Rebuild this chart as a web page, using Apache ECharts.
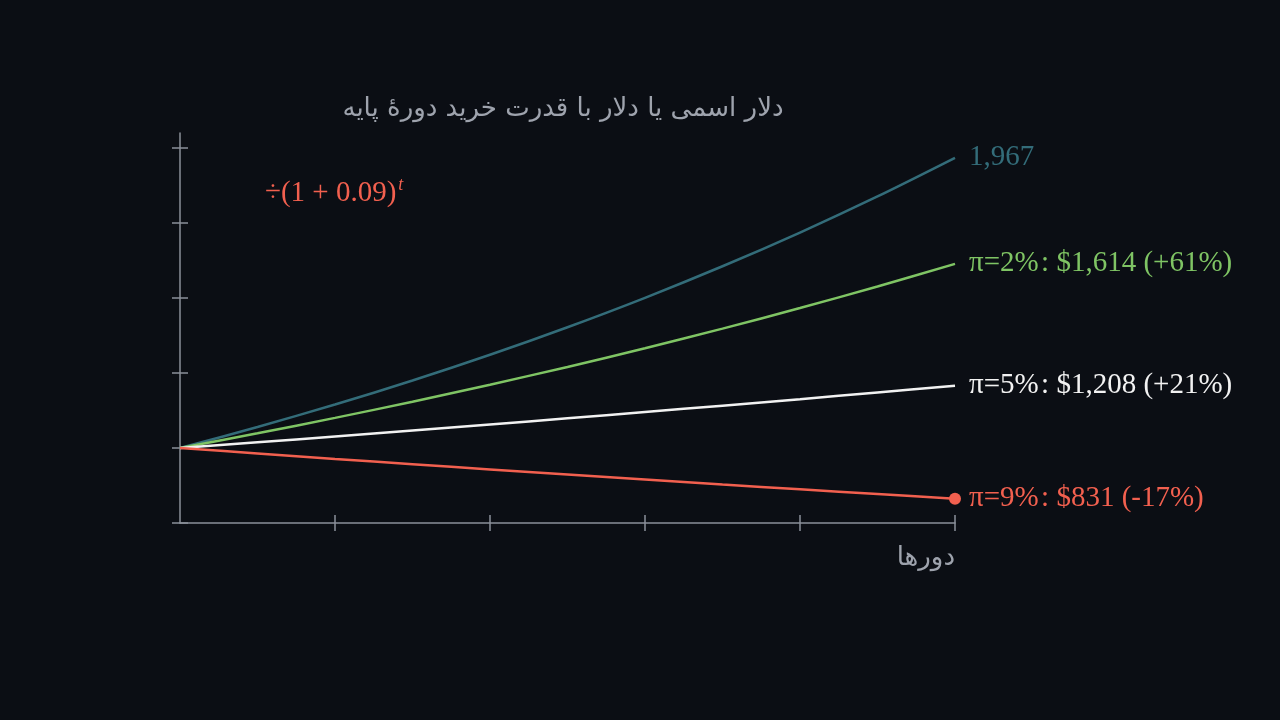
<!DOCTYPE html>
<html><head><meta charset="utf-8">
<script src="https://cdn.jsdelivr.net/npm/echarts@6/dist/echarts.min.js"></script>
<style>html,body{margin:0;padding:0;background:#0b0e14}#c{width:1280px;height:720px}</style>
</head><body><div id="c"></div>
<script>
const periods = [0,1,2,3,4,5,6,7,8,9,10];
const nominal = [1000,1070,1144.9,1225.0,1310.8,1402.6,1500.7,1605.8,1718.2,1838.5,1967.2];
const real2   = [1000,1049.0,1100.4,1154.4,1211.0,1270.3,1332.6,1397.9,1466.5,1538.3,1613.8];
const real5   = [1000,1019.0,1038.5,1058.2,1078.4,1098.9,1119.9,1141.2,1162.9,1185.1,1207.7];
const real9   = [1000,981.7,963.6,946.0,928.6,911.6,894.8,878.4,862.3,846.5,830.9];
const yTicks = [750,1000,1250,1500,1750,2000];
const xTicks = [2,4,6,8,10];
const endLabels = ['1,967','π=2%\u200a: $1,614 (+61%)','π=5%\u200a: $1,208 (+21%)','π=9%\u200a: $831 (-17%)'];
const titleText = 'دلار اسمی یا دلار با قدرت خرید دورهٔ پایه';
const xName = 'دورها';

const axisColor = '#8b9099';
const serif = '"Liberation Serif","DejaVu Serif",serif';
const colors = ['#336c79','#7fc464','#f2f2f2','#f2604f'];
const seriesVals = [nominal, real2, real5, real9];

const chart = echarts.init(document.getElementById('c'));
const mk = v => periods.map((p,i)=>[p,v[i]]);

const series = seriesVals.map((vals,k)=>({
  type:'line', data: mk(vals), xAxisIndex:0, yAxisIndex:0,
  symbol:'none', smooth:0.3, z: 2+k,
  lineStyle:{color:colors[k], width:2.5},
  endLabel:{show:true, formatter: endLabels[k], color:colors[k], fontFamily:serif, fontSize:29, distance:14},
  emphasis:{disabled:true}, animation:false
}));
series.push({
  type:'scatter', data:[[periods[periods.length-1], real9[real9.length-1]]],
  symbol:'circle', symbolSize:12, itemStyle:{color:colors[3], opacity:1}, z:10, animation:false,
  emphasis:{disabled:true}
});

const grid = {left:180, right:325, top:133, bottom:197};
const baseX = {type:'value', min:0, max:10, position:'bottom', offset:0,
  axisLabel:{show:false}, splitLine:{show:false}};
const baseY = {type:'value', min:750, max:2050, position:'left', offset:0,
  axisLabel:{show:false}, splitLine:{show:false}};

chart.setOption({
  backgroundColor:'#0b0e14',
  animation:false,
  grid: grid,
  xAxis:[
    Object.assign({}, baseX, {axisLine:{show:true,onZero:false,lineStyle:{color:axisColor,width:1.5}},
      axisTick:{show:true, customValues:xTicks, length:8, inside:false, lineStyle:{color:axisColor,width:1.5}}}),
    Object.assign({}, baseX, {axisLine:{show:false,onZero:false},
      axisTick:{show:true, customValues:xTicks, length:8, inside:true, lineStyle:{color:axisColor,width:1.5}}})
  ],
  yAxis:[
    Object.assign({}, baseY, {axisLine:{show:true,onZero:false,lineStyle:{color:axisColor,width:1.5}},
      axisTick:{show:true, customValues:yTicks, length:8, inside:false, lineStyle:{color:axisColor,width:1.5}}}),
    Object.assign({}, baseY, {axisLine:{show:false,onZero:false},
      axisTick:{show:true, customValues:yTicks, length:8, inside:true, lineStyle:{color:axisColor,width:1.5}}})
  ],
  series: series,
  graphic:[
    {type:'text', x:563, y:109, z:20,
      style:{text:titleText, fill:'#9ea3ad', font:'26px "DejaVu Sans"', align:'center', verticalAlign:'middle'}},
    {type:'text', x:955, y:558, z:20,
      style:{text:xName, fill:'#9ea3ad', font:'26px "DejaVu Sans"', align:'right', verticalAlign:'middle'}},
    {type:'text', x:265, y:193, z:20,
      style:{text:'{a|÷(1 + 0.09)}{b|t}', fill:'#f2604f', verticalAlign:'middle',
        rich:{a:{fontFamily:serif, fontSize:29, fill:'#f2604f'},
              b:{fontFamily:serif, fontSize:18, fontStyle:'italic', fill:'#f2604f', padding:[0,0,16,2]}}}}
  ]
});
</script></body></html>
